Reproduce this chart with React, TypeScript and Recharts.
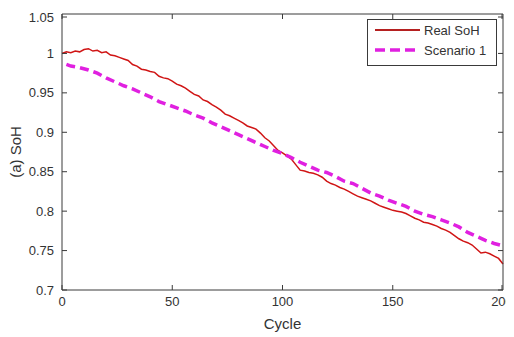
import React from 'react';
import { LineChart, Line, XAxis, YAxis, Legend } from 'recharts';

const realCycles = [0,2,4,6,8,10,12,14,16,18,20,22,24,26,28,30,32,34,36,38,40,42,44,46,48,50,52,54,56,58,60,62,64,66,68,70,72,74,76,78,80,82,84,86,88,90,92,94,96,98,100,102,104,106,108,110,112,114,116,118,120,122,124,126,128,130,132,134,136,138,140,142,144,146,148,150,152,154,156,158,160,162,164,166,168,170,172,174,176,178,180,182,184,186,188,190,192,194,196,198,200];
const realSoH = [1.000,1.002,1.001,1.003,1.002,1.005,1.006,1.003,1.004,1.001,1.002,0.998,0.997,0.995,0.993,0.991,0.986,0.984,0.980,0.979,0.977,0.976,0.971,0.969,0.968,0.965,0.961,0.959,0.956,0.952,0.948,0.946,0.941,0.939,0.935,0.932,0.928,0.923,0.921,0.918,0.915,0.912,0.908,0.906,0.904,0.899,0.893,0.889,0.883,0.877,0.874,0.870,0.866,0.859,0.852,0.851,0.849,0.848,0.846,0.843,0.838,0.835,0.833,0.830,0.828,0.825,0.822,0.819,0.817,0.815,0.813,0.810,0.807,0.805,0.803,0.801,0.800,0.799,0.797,0.794,0.791,0.789,0.786,0.785,0.783,0.781,0.778,0.776,0.773,0.769,0.765,0.762,0.760,0.757,0.752,0.747,0.748,0.746,0.743,0.740,0.733];

const scenCycles = [2,4,8,12,16,20,24,28,32,36,40,44,48,52,56,60,64,68,72,76,80,84,88,92,96,100,104,108,112,116,120,124,128,132,136,140,144,148,152,156,160,164,168,172,176,180,184,188,192,196,200];
const scenSoH = [0.986,0.984,0.982,0.979,0.975,0.969,0.964,0.959,0.955,0.950,0.945,0.939,0.935,0.931,0.927,0.922,0.918,0.912,0.907,0.902,0.897,0.892,0.887,0.882,0.877,0.873,0.868,0.862,0.857,0.852,0.849,0.844,0.838,0.835,0.829,0.823,0.819,0.814,0.810,0.806,0.800,0.796,0.793,0.789,0.785,0.780,0.773,0.768,0.763,0.759,0.756];

const xTicks = [0, 50, 100, 150, 200];
const yTicks = [0.7, 0.75, 0.8, 0.85, 0.9, 0.95, 1, 1.05];

const realData = realCycles.map((c, i) => ({ cycle: c, soh: realSoH[i] }));
const scenData = scenCycles.map((c, i) => ({ cycle: c, soh: scenSoH[i] }));

const AX = '#3a3a3a';
const TXT = '#333333';
const FONT = '"Liberation Sans", Arial, Helvetica, sans-serif';
const RED = '#d01515';
const MAG = '#e020e0';

const BottomTick = (p: any) => (
  <g>
    <line x1={p.x} y1={p.y} x2={p.x} y2={p.y - 5} stroke={AX} strokeWidth={1} />
    <text x={p.x} y={p.y + 16} textAnchor="middle" fontSize={13} fill={TXT} fontFamily={FONT}>
      {String(p.payload.value)}
    </text>
  </g>
);
const LeftTick = (p: any) => (
  <g>
    <line x1={p.x} y1={p.y} x2={p.x + 5} y2={p.y} stroke={AX} strokeWidth={1} />
    <text x={p.x - 8} y={p.y + 4.5} textAnchor="end" fontSize={13} fill={TXT} fontFamily={FONT}>
      {String(p.payload.value)}
    </text>
  </g>
);
const TopTick = (p: any) => (
  <line x1={p.x} y1={p.y} x2={p.x} y2={p.y + 5} stroke={AX} strokeWidth={1} />
);
const RightTick = (p: any) => (
  <line x1={p.x} y1={p.y} x2={p.x - 5} y2={p.y} stroke={AX} strokeWidth={1} />
);

const LegendBox = (props: any) => {
  const items = (props.payload || []).filter((it: any) => it.type !== 'none');
  return (
    <svg width={130} height={47} style={{ display: 'block' }}>
      <rect x={0.5} y={0.5} width={129} height={46} fill="#fff" stroke={AX} strokeWidth={1} />
      {items.map((it: any, i: number) => {
        const y = 11 + i * 20;
        const dashed = i === 1;
        return (
          <g key={i}>
            <line x1={8} y1={y} x2={53} y2={y} stroke={dashed ? MAG : '#b52020'}
              strokeWidth={dashed ? 3.5 : 2} strokeDasharray={dashed ? '10 5' : undefined} />
            <text x={57} y={y + 4.5} fontSize={13} fill={TXT} fontFamily={FONT}>{it.value}</text>
          </g>
        );
      })}
    </svg>
  );
};

export default function App() {
  return (
    <div style={{ width: 506, height: 329, background: '#fff' }}>
      <LineChart width={506} height={329} margin={{ top: 5, right: 10, left: 0, bottom: 0 }}>
        <XAxis xAxisId="b" dataKey="cycle" type="number" domain={[0, 200]} ticks={xTicks}
          height={47} tickSize={0} tickMargin={0} tick={BottomTick} stroke={AX}
          axisLine={{ stroke: AX }} tickLine={false}
          label={{ value: 'Cycle', position: 'insideBottom', offset: 8, fontSize: 15, fill: TXT, fontFamily: FONT }} />
        <XAxis xAxisId="t" orientation="top" dataKey="cycle" type="number" domain={[0, 200]} ticks={xTicks}
          height={1} tickSize={0} tickMargin={0} tick={TopTick} axisLine={{ stroke: AX }} tickLine={false} />
        <YAxis yAxisId="l" type="number" domain={[0.7, 1.05]} ticks={yTicks} width={54}
          tickSize={0} tickMargin={0} tick={LeftTick} axisLine={{ stroke: AX }} tickLine={false}
          label={{ value: '(a) SoH', angle: -90, position: 'insideLeft', offset: 8, fontSize: 15, fill: TXT, fontFamily: FONT, style: { textAnchor: 'middle' } }} />
        <YAxis yAxisId="r" orientation="right" type="number" domain={[0.7, 1.05]} ticks={yTicks} width={1}
          tickSize={0} tickMargin={0} tick={RightTick} axisLine={{ stroke: AX }} tickLine={false} />
        <Legend content={LegendBox} layout="horizontal" verticalAlign="middle" align="center"
          wrapperStyle={{ position: 'absolute', left: 359, top: 11, width: 130, height: 47 }} />
        <Line xAxisId="t" yAxisId="r" data={realData} dataKey="soh" name="frame" stroke="none"
          legendType="none" dot={false} activeDot={false} isAnimationActive={false} />
        <Line xAxisId="b" yAxisId="l" data={realData} dataKey="soh" name="Real SoH" stroke={RED}
          strokeWidth={1.5} dot={false} isAnimationActive={false} type="linear" />
        <Line xAxisId="b" yAxisId="l" data={scenData} dataKey="soh" name="Scenario 1" stroke={MAG}
          strokeWidth={3.5} strokeDasharray="9 5" dot={false} isAnimationActive={false} type="linear" />
      </LineChart>
    </div>
  );
}
